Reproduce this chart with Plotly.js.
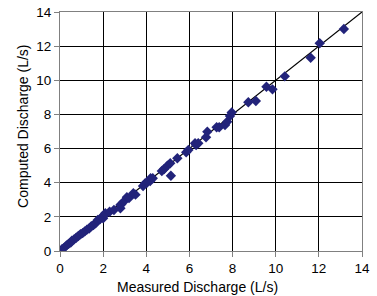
<!DOCTYPE html>
<html><head><meta charset="utf-8">
<script src="https://cdn.plot.ly/plotly-3.0.1.min.js"></script>
<style>html,body{margin:0;padding:0;background:#fff}#c{width:377px;height:296px}</style>
</head><body><div id="c"></div>
<script>
var measured = [0.1,0.2,0.3,0.4,0.5,0.55,0.65,0.75,0.85,0.95,1.05,1.15,1.25,1.35,1.45,1.55,1.65,1.75,1.85,1.95,2.0,2.07,2.1,2.3,2.5,2.8,2.8,2.85,2.95,3.1,3.2,3.4,3.5,3.85,3.95,4.03,4.18,4.2,4.3,4.72,4.83,4.98,5.11,5.14,5.44,5.85,5.95,6.26,6.31,6.41,6.77,6.83,7.26,7.38,7.65,7.75,7.88,7.96,8.73,9.08,9.57,9.85,10.42,11.62,12.04,13.16];
var computed = [0.12,0.2,0.32,0.42,0.5,0.6,0.68,0.78,0.88,0.98,1.05,1.15,1.25,1.32,1.45,1.52,1.62,1.82,1.85,2.01,1.92,2.11,2.21,2.3,2.4,2.5,2.69,2.75,2.89,3.15,3.1,3.38,3.3,3.81,3.97,4.0,4.1,4.26,4.26,4.69,4.8,5.0,5.14,4.41,5.43,5.78,5.92,6.31,6.21,6.31,6.66,6.99,7.25,7.25,7.38,7.57,7.91,8.12,8.71,8.79,9.62,9.47,10.23,11.32,12.17,13.0];
var lineX = [0, 14];
var lineY = [0, 14];
var tickVals = [0,2,4,6,8,10,12,14];
var xTitle = 'Measured Discharge (L/s)';
var yTitle = 'Computed Discharge (L/s)';

var FONT = 'Liberation Sans, Arial, sans-serif';
var traces = [
  {x: lineX, y: lineY, mode: 'lines', line: {color: '#000000', width: 1.2}, hoverinfo: 'skip'},
  {x: measured, y: computed, mode: 'markers', type: 'scatter',
   marker: {symbol: 'diamond', size: 8, color: '#22237a', line: {width: 0}}}
];
var axisCommon = {
  range: [0, 14], tickvals: tickVals, ticktext: tickVals.map(String),
  showgrid: true, gridcolor: '#000000', gridwidth: 1,
  zeroline: false, showline: true, linecolor: '#808080', linewidth: 1, mirror: true,
  ticks: 'outside', ticklen: 5, tickcolor: '#808080', tickwidth: 1,
  tickfont: {family: FONT, size: 13.5, color: '#000'},
  fixedrange: true
};
var layout = {
  width: 377, height: 296,
  margin: {l: 60, r: 15, t: 12, b: 45},
  paper_bgcolor: '#ffffff', plot_bgcolor: '#ffffff',
  showlegend: false,
  font: {family: FONT, size: 13.5, color: '#000'},
  xaxis: Object.assign({}, axisCommon),
  yaxis: Object.assign({}, axisCommon),
  annotations: [
    {text: xTitle, xref: 'paper', yref: 'paper', x: 0.455, y: -0.152, xanchor: 'center', yanchor: 'middle',
     showarrow: false, font: {family: FONT, size: 14, color: '#000'}},
    {text: yTitle, xref: 'paper', yref: 'paper', x: -0.122, y: 0.52, xanchor: 'center', yanchor: 'middle',
     textangle: -90, showarrow: false, font: {family: FONT, size: 14, color: '#000'}}
  ]
};
Plotly.newPlot('c', traces, layout, {staticPlot: true, displayModeBar: false});
</script></body></html>
